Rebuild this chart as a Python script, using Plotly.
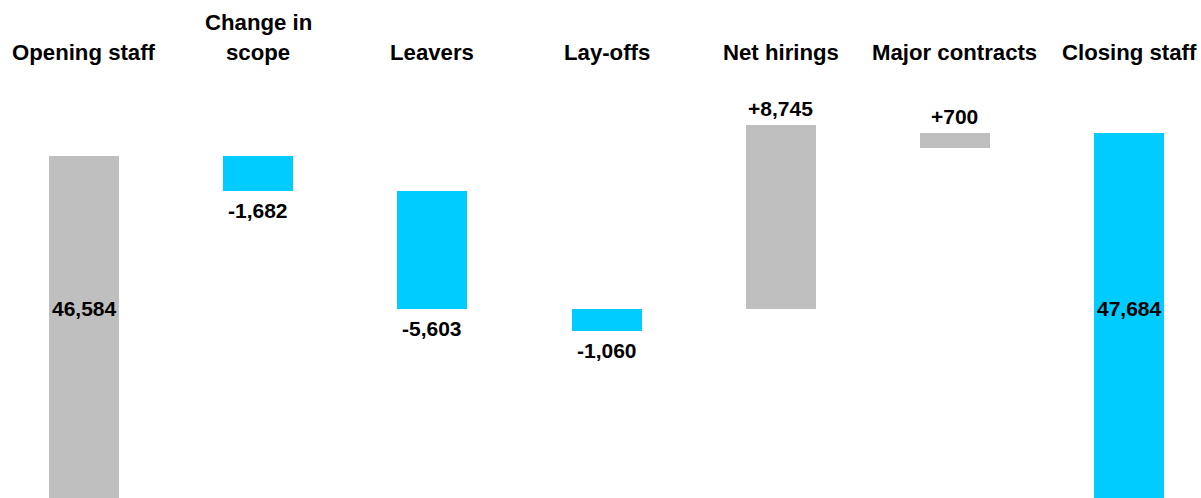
import plotly.graph_objects as go

categories = ["Opening staff", "Change in<br>scope", "Leavers", "Lay-offs",
              "Net hirings", "Major contracts", "Closing staff"]
values = [46584, -1682, -5603, -1060, 8745, 700, 47684]
# bar start levels as drawn in the picture
bar_bases = [0, 46584, 44902, 39299, 39299, 46984, 0]
is_total = [True, False, False, False, False, False, True]
bar_colors = ["#BFBFBF", "#00CCFF", "#00CCFF", "#00CCFF", "#BFBFBF", "#BFBFBF", "#00CCFF"]

FONT = "Liberation Sans, Arial, sans-serif"
W, H = 1201, 498
xs = list(range(len(categories)))

fig = go.Figure()
fig.add_trace(go.Bar(
    x=xs, y=values, base=bar_bases, width=0.402,
    marker=dict(color=bar_colors, line=dict(width=0)),
    hoverinfo="skip", showlegend=False,
))

annotations = []
for i, (cat, v, b, tot) in enumerate(zip(categories, values, bar_bases, is_total)):
    lines = cat.split("<br>")
    n = len(lines)
    for j, line in enumerate(lines):
        annotations.append(dict(
            x=i, xref="x", y=1, yref="paper", text=f"<b>{line}</b>",
            showarrow=False, xanchor="center", yanchor="middle",
            yshift=-52 - 29.5 * (j - (n - 1)),
            font=dict(family=FONT, size=22.2, color="#000000"),
        ))
    if tot:
        annotations.append(dict(
            x=i, xref="x", y=1 - 308 / H, yref="paper", text=f"<b>{v:,}</b>",
            showarrow=False, xanchor="center", yanchor="middle",
            font=dict(family=FONT, size=21, color="#000000"),
        ))
    else:
        end = b + v
        if v < 0:
            annotations.append(dict(
                x=i, xref="x", y=end, yref="y", text=f"<b>{v:+,}</b>",
                showarrow=False, xanchor="center", yanchor="top", yshift=-6,
                font=dict(family=FONT, size=21, color="#000000"),
            ))
        else:
            annotations.append(dict(
                x=i, xref="x", y=end, yref="y", text=f"<b>{v:+,}</b>",
                showarrow=False, xanchor="center", yanchor="bottom", yshift=3,
                font=dict(family=FONT, size=21, color="#000000"),
            ))

fig.update_layout(
    width=W, height=H,
    margin=dict(l=0, r=0, t=0, b=0, autoexpand=False),
    paper_bgcolor="white", plot_bgcolor="white",
    xaxis=dict(visible=False, range=[-0.4823, 6.4133], fixedrange=True),
    yaxis=dict(visible=False, range=[30247, 54036], fixedrange=True),
    annotations=annotations,
    bargap=0,
)

fig.write_html(
    "out.html",
    config={"displayModeBar": False},
    post_script="document.body.style.margin='0';"
                "document.documentElement.style.overflow='hidden';"
                "document.body.style.overflow='hidden';",
)
